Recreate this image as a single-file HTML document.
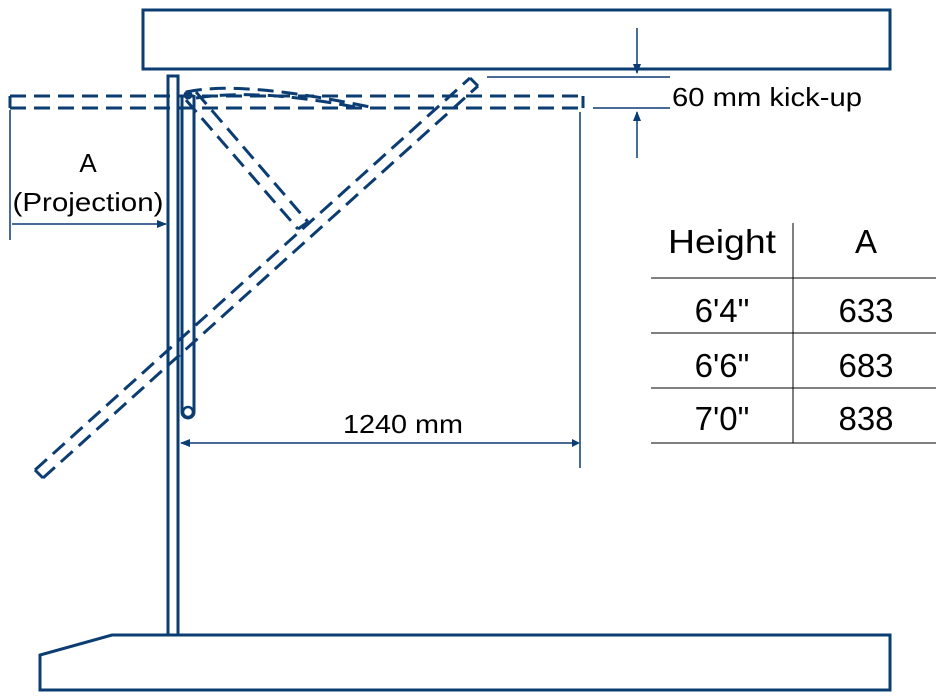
<!DOCTYPE html>
<html><head><meta charset="utf-8"><style>
html,body{margin:0;padding:0;background:#fff;width:938px;height:700px;overflow:hidden}
svg{display:block}
text{font-family:"Liberation Sans",sans-serif;fill:#000}
</style></head><body>
<svg width="938" height="700" viewBox="0 0 938 700" xmlns="http://www.w3.org/2000/svg">
<defs>
<marker id="ah" markerWidth="10" markerHeight="8" refX="9" refY="4" orient="auto" markerUnits="userSpaceOnUse">
<path d="M0,0 L10,4 L0,8 z" fill="#0b3c72"/></marker>
</defs>
<g fill="none" stroke="#0b3c72">
<rect x="143" y="10" width="747" height="59" stroke-width="3"/>
<path d="M112,635 L890,635 L890,690 L40,690 L40,655 Z" stroke-width="3"/>
<rect x="168" y="76" width="10" height="559" stroke-width="3"/>
<path d="M182,95 L182,412 A6,6 0 0 0 194,412 L194,95" stroke-width="3"/>
<circle cx="188" cy="412" r="5" stroke-width="2.5"/>
<g stroke-width="3" stroke-dasharray="16,8">
<path d="M10,96 L583,96 M10,108 L583,108"/>
<path d="M35,470 L470,78 M43,478 L478,86"/>
<path d="M186,100 L298,229 M196,92 L308,222"/>
<path d="M186,92 Q240,80 370,107 M196,98 Q260,88 360,108"/>
</g>
<path d="M10,96 L10,108 M583,96 L583,108 M35,470 L43,478 M470,78 L478,86 M298,229 L308,222" stroke-width="3"/>
<circle cx="188" cy="95" r="4" fill="#0b3c72" stroke-width="1"/>
<g stroke-width="1.5">
<line x1="637" y1="28" x2="637" y2="73" marker-end="url(#ah)"/>
<line x1="637" y1="158" x2="637" y2="112" marker-end="url(#ah)"/>
<line x1="487" y1="77" x2="670" y2="77"/>
<line x1="593" y1="108" x2="670" y2="108"/>
<line x1="10" y1="110" x2="10" y2="240"/>
<line x1="12" y1="224" x2="166" y2="224" marker-end="url(#ah)"/>
<line x1="580" y1="112" x2="580" y2="468"/>
<line x1="578" y1="443" x2="181" y2="443" marker-end="url(#ah)"/>
</g>
<g stroke="#000" stroke-width="1">
<line x1="793" y1="223" x2="793" y2="443"/>
<line x1="651" y1="278" x2="936" y2="278"/>
<line x1="651" y1="333" x2="936" y2="333"/>
<line x1="651" y1="388" x2="936" y2="388"/>
<line x1="651" y1="443" x2="936" y2="443"/>
</g>
</g>
<path d="M572,439 L580,443 L572,447 Z" fill="#0b3c72"/>
<text x="672" y="106" font-size="26" textLength="190" lengthAdjust="spacingAndGlyphs">60 mm kick-up</text>
<text x="88" y="172" font-size="26" text-anchor="middle">A</text>
<text x="88" y="211" font-size="26" text-anchor="middle" textLength="151" lengthAdjust="spacingAndGlyphs">(Projection)</text>
<text x="403" y="433" font-size="26" text-anchor="middle" textLength="120" lengthAdjust="spacingAndGlyphs">1240 mm</text>
<g font-size="33" text-anchor="middle">
<text x="722" y="253" textLength="108" lengthAdjust="spacingAndGlyphs">Height</text>
<text x="866" y="253">A</text>
<text x="722" y="322">6'4"</text><text x="866" y="322">633</text>
<text x="722" y="377">6'6"</text><text x="866" y="377">683</text>
<text x="722" y="430">7'0"</text><text x="866" y="430">838</text>
</g>
</svg>
</body></html>
